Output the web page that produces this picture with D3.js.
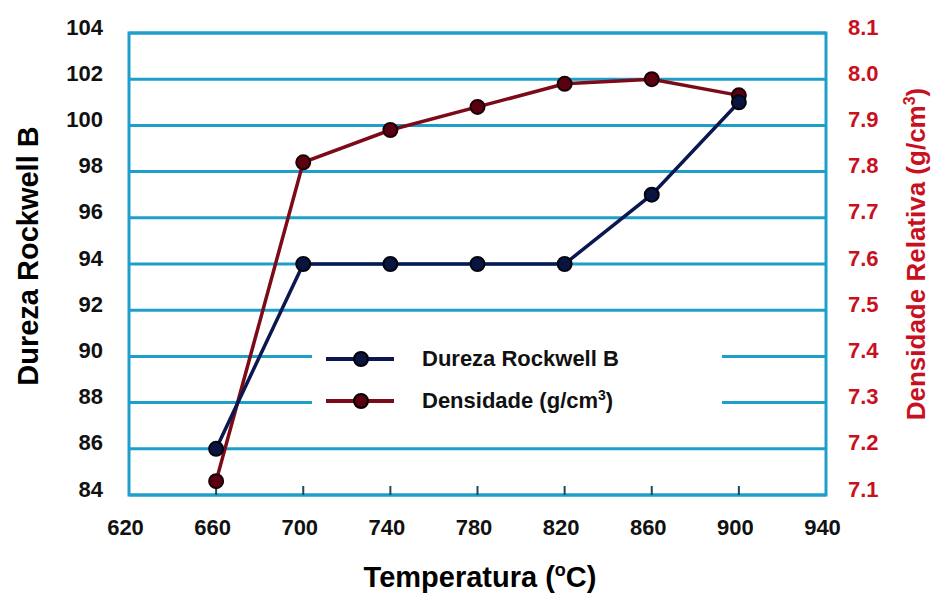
<!DOCTYPE html>
<html>
<head>
<meta charset="utf-8">
<script src="https://cdn.jsdelivr.net/npm/d3@7"></script>
<style>
  body { margin: 0; background: #fff; }
  svg { font-family: "Liberation Sans", Arial, sans-serif; font-weight: bold; }
</style>
</head>
<body>
<div id="chart"></div>
<script>
// temperature (ºC)
var temps = [660, 700, 740, 780, 820, 860, 900];
var dureza = [86, 94, 94, 94, 94, 97, 101];
var densidade = [7.13, 7.82, 7.89, 7.94, 7.99, 8.0, 7.965];

var xTicks = [620, 660, 700, 740, 780, 820, 860, 900, 940];
var leftTicks = [84, 86, 88, 90, 92, 94, 96, 98, 100, 102, 104];
var rightTicks = [7.1, 7.2, 7.3, 7.4, 7.5, 7.6, 7.7, 7.8, 7.9, 8.0, 8.1];

var width = 935, height = 595;
var margin = {top: 33, right: 109, bottom: 100, left: 129};

var gridColor = '#1e9fca';
var durezaColor = '#0b1850';
var densColor = '#7d0a18';

var svg = d3.select("#chart").append("svg")
  .attr("width", width)
  .attr("height", height);

var x = d3.scaleLinear().domain([620, 940]).range([margin.left, width - margin.right]);
var yL = d3.scaleLinear().domain([84, 104]).range([height - margin.bottom, margin.top]);
var yR = d3.scaleLinear().domain([7.1, 8.1]).range([height - margin.bottom, margin.top]);

// gridlines
svg.append("g")
  .selectAll("line")
  .data(leftTicks)
  .enter().append("line")
  .attr("x1", x(620))
  .attr("x2", x(940))
  .attr("y1", d => yL(d))
  .attr("y2", d => yL(d))
  .style("stroke", gridColor)
  .style("stroke-width", 3);

// frame
svg.append("rect")
  .attr("x", x(620))
  .attr("y", yL(104))
  .attr("width", x(940) - x(620))
  .attr("height", yL(84) - yL(104))
  .style("fill", "none")
  .style("stroke", gridColor)
  .style("stroke-width", 3);

// small ticks on bottom
svg.append("g")
  .selectAll("line")
  .data(xTicks.filter(d => d > 620 && d < 940))
  .enter().append("line")
  .attr("x1", d => x(d))
  .attr("x2", d => x(d))
  .attr("y1", yL(84))
  .attr("y2", yL(84) - 9)
  .style("stroke", "#1d4a5a")
  .style("stroke-width", 2);

// axis labels (ticks)
var xAxis = d3.axisBottom(x).tickValues(xTicks).tickSize(0).tickPadding(24);
var gx = svg.append("g")
  .attr("transform", "translate(0," + yL(84) + ")")
  .call(xAxis);
gx.select(".domain").remove();
gx.selectAll("text")
  .attr("font-size", "22px")
  .attr("font-weight", "bold")
  .attr("font-family", "Liberation Sans, Arial, sans-serif")
  .attr("fill", "#111")
  .attr("dx", "-4");

var leftAxis = d3.axisLeft(yL).tickValues(leftTicks).tickSize(0).tickPadding(26);
var gl = svg.append("g")
  .attr("transform", "translate(" + x(620) + ",0)")
  .call(leftAxis);
gl.select(".domain").remove();
gl.selectAll("text")
  .attr("font-size", "22px")
  .attr("font-weight", "bold")
  .attr("font-family", "Liberation Sans, Arial, sans-serif")
  .attr("fill", "#111")
  .attr("dy", "0.05em");

var rightAxis = d3.axisRight(yR).tickValues(rightTicks).tickSize(0).tickPadding(22)
  .tickFormat(d3.format(".1f"));
var gr = svg.append("g")
  .attr("transform", "translate(" + x(940) + ",0)")
  .call(rightAxis);
gr.select(".domain").remove();
gr.selectAll("text")
  .attr("font-size", "22px")
  .attr("font-weight", "bold")
  .attr("font-family", "Liberation Sans, Arial, sans-serif")
  .attr("fill", "#c8101e")
  .attr("dy", "0.05em");

// legend background covers gridlines
svg.append("rect")
  .attr("x", 312)
  .attr("y", 336)
  .attr("width", 410)
  .attr("height", 88)
  .style("fill", "#fff");

// series
var durezaLine = d3.line()
  .x((d, i) => x(temps[i]))
  .y(d => yL(d));
var densLine = d3.line()
  .x((d, i) => x(temps[i]))
  .y(d => yR(d));

svg.append("path")
  .attr("d", densLine(densidade))
  .style("fill", "none")
  .style("stroke", densColor)
  .style("stroke-width", 3.5);

svg.append("path")
  .attr("d", durezaLine(dureza))
  .style("fill", "none")
  .style("stroke", durezaColor)
  .style("stroke-width", 3.5);

svg.append("g")
  .selectAll("circle")
  .data(densidade)
  .enter().append("circle")
  .attr("cx", (d, i) => x(temps[i]))
  .attr("cy", d => yR(d))
  .attr("r", 7)
  .style("fill", "#5a0010")
  .style("stroke", "#1a0005")
  .style("stroke-width", 2);

svg.append("g")
  .selectAll("circle")
  .data(dureza)
  .enter().append("circle")
  .attr("cx", (d, i) => x(temps[i]))
  .attr("cy", d => yL(d))
  .attr("r", 7)
  .style("fill", "#0a1440")
  .style("stroke", "#000510")
  .style("stroke-width", 2);

// legend
var legendItems = [
  {label: "Dureza Rockwell B", color: durezaColor, fill: "#0a1440", y: 359},
  {label: "Densidade (g/cm", sup: "3", end: ")", color: densColor, fill: "#5a0010", y: 401}
];
var lg = svg.append("g");
legendItems.forEach(function(item) {
  lg.append("line")
    .attr("x1", 326).attr("x2", 394)
    .attr("y1", item.y).attr("y2", item.y)
    .style("stroke", item.color)
    .style("stroke-width", 4);
  lg.append("circle")
    .attr("cx", 361).attr("cy", item.y).attr("r", 7)
    .style("fill", item.fill)
    .style("stroke", "#000")
    .style("stroke-width", 2);
  var t = lg.append("text")
    .attr("x", 422).attr("y", item.y + 7)
    .attr("font-size", "22px")
    .attr("fill", "#111")
    .text(item.label);
  if (item.sup) {
    t.append("tspan").attr("dy", -8).attr("font-size", "14px").text(item.sup);
    t.append("tspan").attr("dy", 8).text(item.end);
  }
});

// axis titles
var xt = svg.append("text")
  .attr("x", 480)
  .attr("y", 587)
  .attr("text-anchor", "middle")
  .attr("font-size", "29px")
  .attr("fill", "#000")
  .text("Temperatura (");
xt.append("tspan").attr("dy", -11).attr("font-size", "18px").text("o");
xt.append("tspan").attr("dy", 11).text("C)");

svg.append("text")
  .attr("transform", "translate(38,256) rotate(-90)")
  .attr("text-anchor", "middle")
  .attr("font-size", "29px")
  .attr("fill", "#000")
  .text("Dureza Rockwell B");

var rt = svg.append("text")
  .attr("transform", "translate(925,254) rotate(-90)")
  .attr("text-anchor", "middle")
  .attr("font-size", "26px")
  .attr("fill", "#c8101e")
  .text("Densidade Relativa (g/cm");
rt.append("tspan").attr("dy", -10).attr("font-size", "16px").text("3");
rt.append("tspan").attr("dy", 10).text(")");
</script>
</body>
</html>
